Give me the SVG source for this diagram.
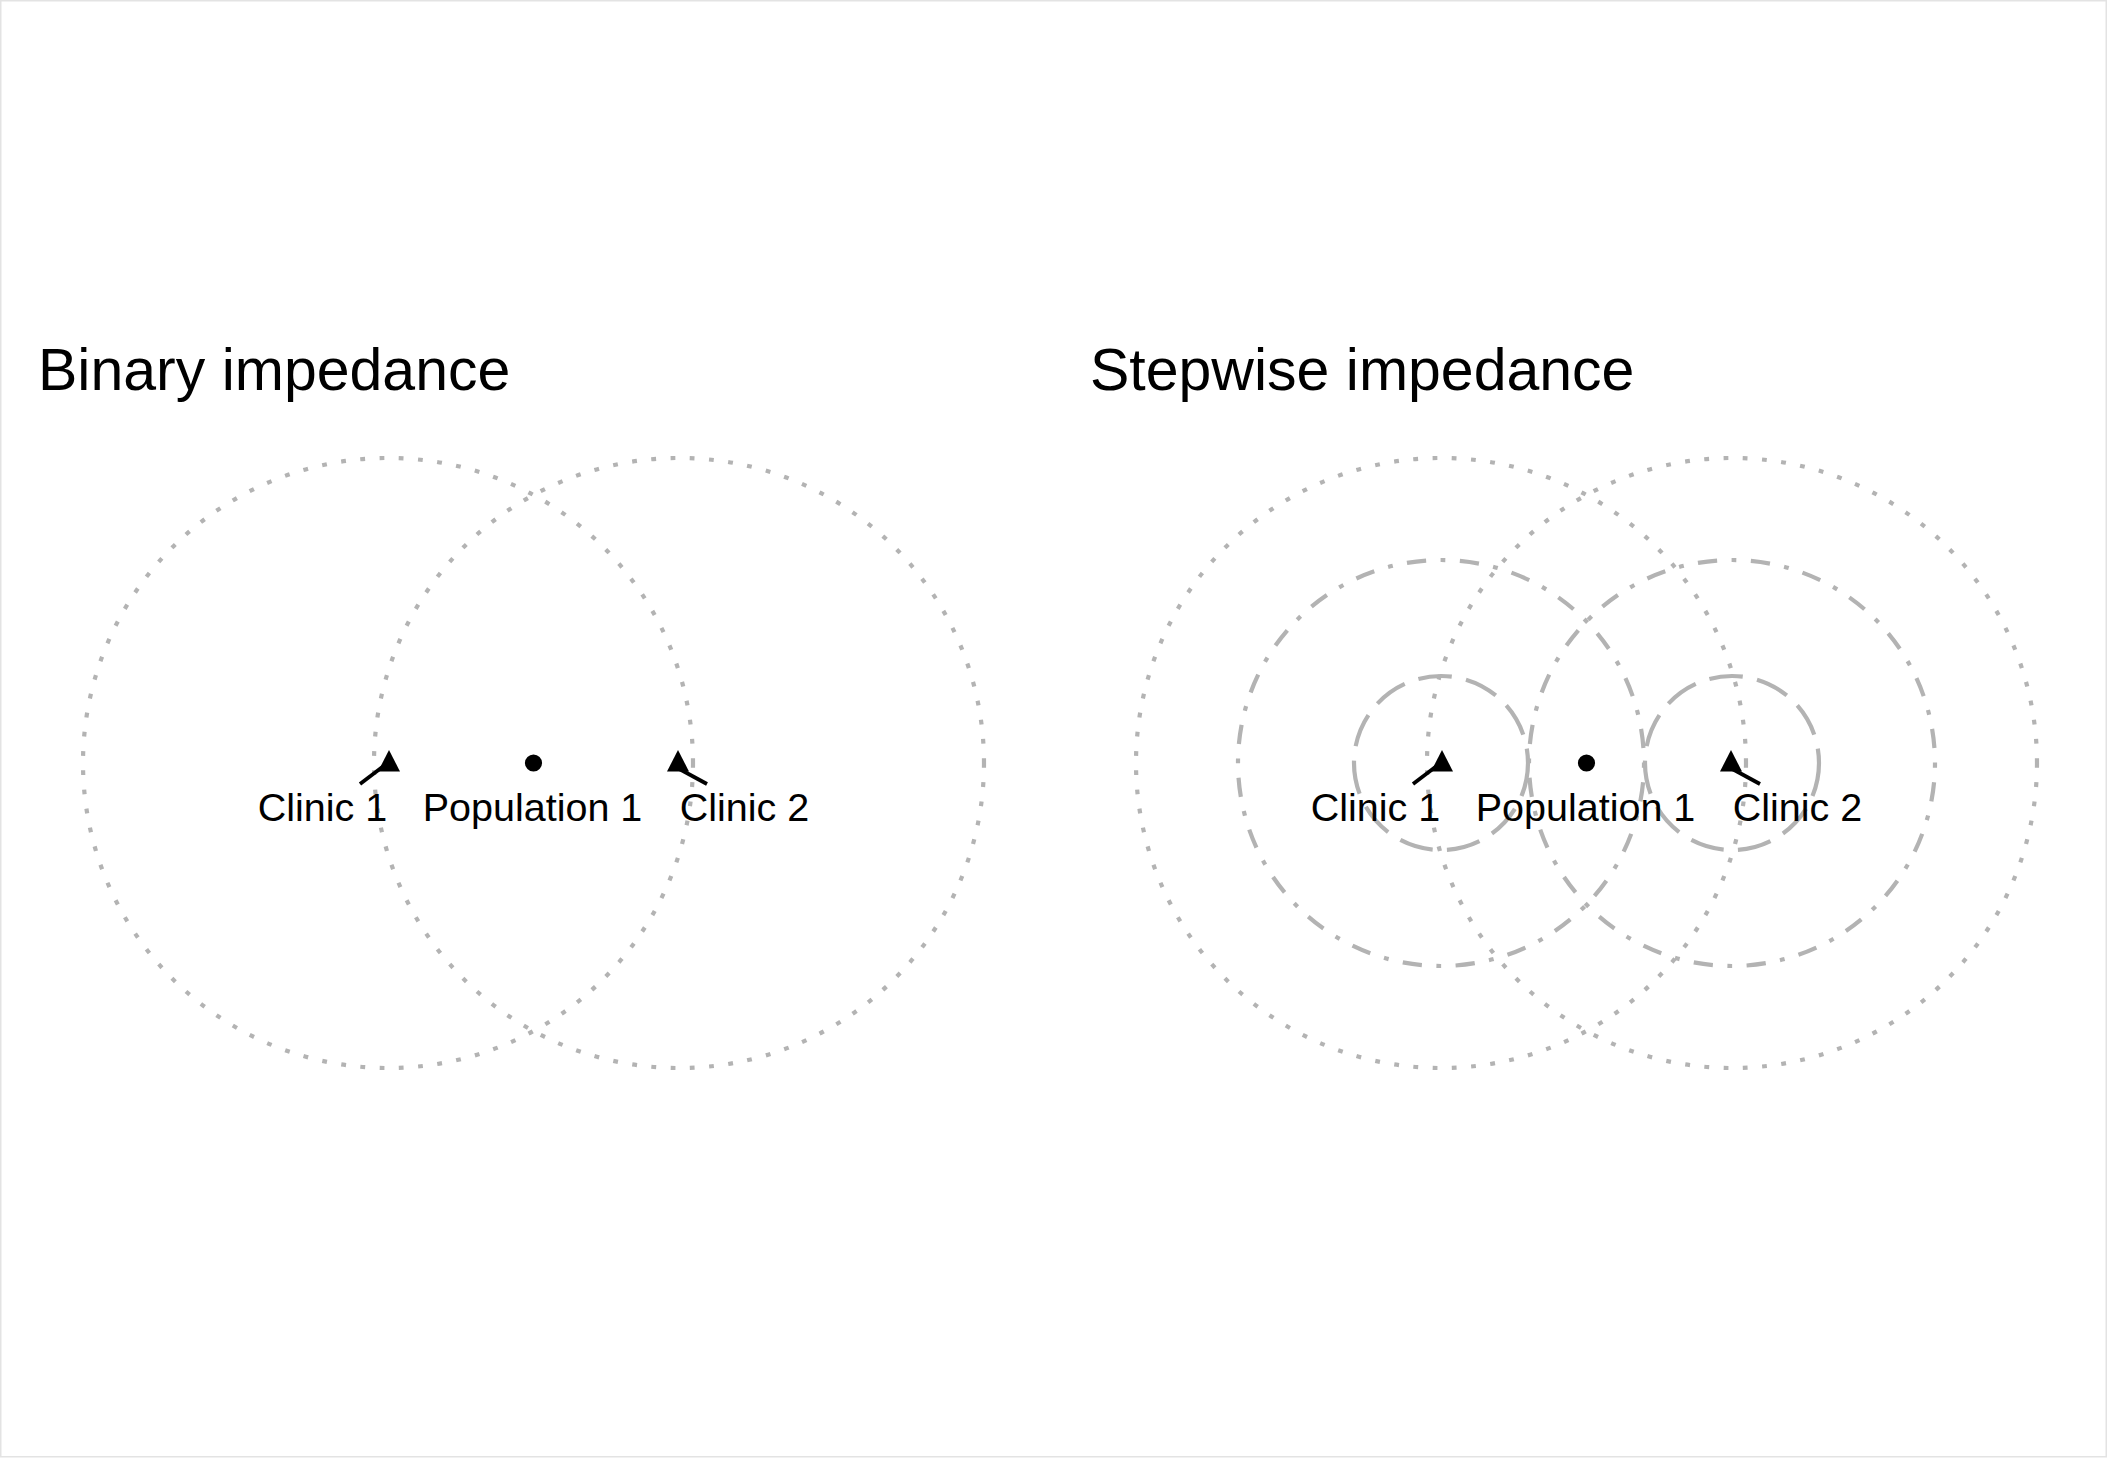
<svg xmlns="http://www.w3.org/2000/svg" width="2107" height="1459" viewBox="0 0 2107 1459">
<defs>
<style>
.bg{fill:#ffffff}
.frame{fill:none;stroke:#e3e3e3;stroke-width:1.5}
.ring{fill:none;stroke:#b3b3b3}
.dotted{stroke-width:4.2;stroke-dasharray:4.8 14.5}
.dotdash{stroke-width:4.2;stroke-dasharray:4.8 14.5 19.3 14.5}
.longdash{stroke-width:4.2;stroke-dasharray:33.8 14.5}
.title{font-family:"Liberation Sans",Arial,sans-serif;font-size:59px;fill:#000}
.lbl{font-family:"Liberation Sans",Arial,sans-serif;font-size:39.5px;fill:#000;text-anchor:middle}
.pt{fill:#000}
.seg{stroke:#000;stroke-width:3.8;fill:none}
</style>
<polygon id="tri" points="0,-13 11,8.5 -11,8.5"/>
</defs>
<rect class="bg" x="0" y="0" width="2107" height="1459"/>
<rect class="frame" x="0.75" y="0.75" width="2105.5" height="1456"/>

<g id="titles">
<text class="title" x="38" y="390">Binary impedance</text>
<text class="title" x="1090" y="390">Stepwise impedance</text>
</g>

<g id="connectors">
<g id="rings-binary">
<circle class="ring dotted" cx="388" cy="763" r="305"/>
<circle class="ring dotted" cx="679" cy="763" r="305"/>
</g>
<g id="rings-stepwise">
<circle class="ring dotted" cx="1441" cy="763" r="305"/>
<circle class="ring dotted" cx="1732" cy="763" r="305"/>
<circle class="ring dotdash" cx="1441" cy="763" r="203"/>
<circle class="ring dotdash" cx="1732" cy="763" r="203"/>
<circle class="ring longdash" cx="1441" cy="763" r="87"/>
<circle class="ring longdash" cx="1732" cy="763" r="87"/>
</g>
<g id="leaders">
<line class="seg" x1="360" y1="784" x2="385" y2="765"/>
<line class="seg" x1="672" y1="765" x2="707" y2="784"/>
<line class="seg" x1="1413" y1="784" x2="1438" y2="765"/>
<line class="seg" x1="1725" y1="765" x2="1760" y2="784"/>
</g>
</g>

<g id="binary-clinic1">
<use href="#tri" x="389" y="763"/>
<text class="lbl" x="322.5" y="821">Clinic 1</text>
</g>
<g id="binary-population1">
<circle class="pt" cx="533.5" cy="763" r="8.6"/>
<text class="lbl" x="532.5" y="821">Population 1</text>
</g>
<g id="binary-clinic2">
<use href="#tri" x="678" y="763"/>
<text class="lbl" x="744.5" y="821">Clinic 2</text>
</g>

<g id="stepwise-clinic1">
<use href="#tri" x="1442" y="763"/>
<text class="lbl" x="1375.5" y="821">Clinic 1</text>
</g>
<g id="stepwise-population1">
<circle class="pt" cx="1586.5" cy="763" r="8.6"/>
<text class="lbl" x="1585.5" y="821">Population 1</text>
</g>
<g id="stepwise-clinic2">
<use href="#tri" x="1731" y="763"/>
<text class="lbl" x="1797.5" y="821">Clinic 2</text>
</g>
</svg>
